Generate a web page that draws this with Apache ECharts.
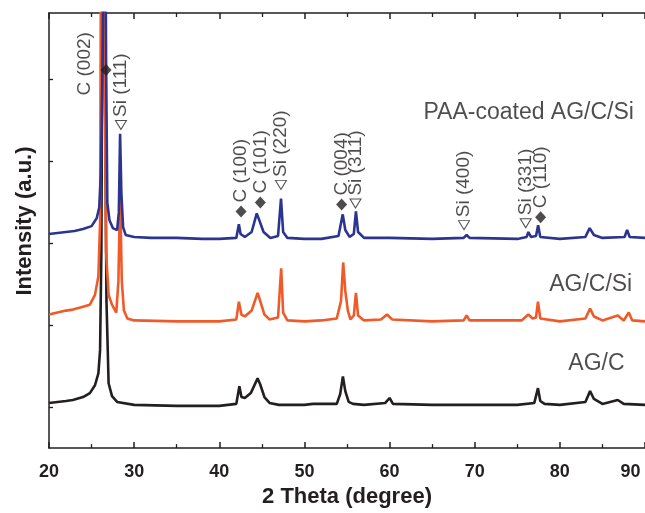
<!DOCTYPE html>
<html>
<head>
<meta charset="utf-8">
<script src="https://cdn.jsdelivr.net/npm/echarts@6/dist/echarts.min.js"></script>
<style>html,body{margin:0;padding:0;background:#fff}#c{width:645px;height:513px}</style>
</head>
<body>
<div id="c"></div>
<script>
// 2θ (degree) vs intensity (a.u., traces offset as drawn)
const agC = [[20,46],[21,47],[22,48],[22.8,49],[24,52],[24.8,56],[25.4,64],[25.8,76],[26.0,100],[26.15,200],[26.3,500],[26.4,700],[26.55,400],[26.75,150],[27.0,66],[27.4,53],[28,47],[30,44],[35,43],[40,43],[42.0,45],[42.36,63],[42.6,52],[43.0,51],[43.7,56],[44.5,71],[44.8,65],[45.3,52],[45.9,46],[47,44],[50,44],[51,45],[53.8,45],[54.2,55],[54.52,73],[54.8,58],[55.2,47],[55.7,45],[57,44],[59.5,46],[60.0,51],[60.4,45],[65,44],[70,44],[75,44],[77.0,46],[77.43,61],[77.7,48],[78.2,45],[80,44],[83.0,47],[83.55,58],[84.0,50],[85,45],[86.8,49],[87.5,45],[90,44]];
const agCSi = [[20,136],[21,138],[22,140],[22.8,141],[24,144],[24.8,146],[25.4,156],[25.8,175],[26.0,230],[26.1,500],[26.25,700],[26.45,500],[26.7,200],[27.0,156],[27.4,146],[27.9,138],[28.15,170],[28.35,260],[28.55,170],[28.8,140],[29.2,132],[30,130],[35,129],[40,129],[42.0,131],[42.3,149],[42.6,136],[43.0,134],[43.8,140],[44.5,158],[44.8,150],[45.3,136],[45.9,131],[46.9,133],[47.27,183],[47.5,138],[48,130],[50,129],[52,130],[53.8,132],[54.3,150],[54.55,189],[54.8,160],[55.1,140],[55.4,131],[55.8,135],[56.05,158],[56.3,135],[57,130],[59.0,131],[59.7,136],[60.3,131],[65,129],[68.7,130],[69.05,135],[69.4,130],[75.5,130],[76.3,136],[76.8,132],[77.2,133],[77.43,149],[77.7,132],[80,129],[83.0,132],[83.55,142],[84.0,134],[85,130],[86.8,135],[87.5,130],[88.1,138],[88.5,130],[90,129]];
const paaAgCSi = [[20,218],[21,219],[22,220],[23,221],[24,223],[25,226],[25.6,234],[25.9,245],[26.1,280],[26.3,400],[26.55,700],[26.7,400],[26.85,250],[27.1,232],[27.5,224],[28.0,222],[28.2,240],[28.35,320],[28.5,260],[28.7,225],[29.0,217],[30,215],[32,214],[35,214],[38,213],[40,213],[42.0,214],[42.3,228],[42.5,218],[43.0,215],[43.8,220],[44.4,239],[44.7,232],[45.2,220],[46.0,214],[46.9,216],[47.25,254],[47.5,220],[48,214],[50,213],[52,213],[54.0,216],[54.5,238],[54.8,222],[55.3,215],[55.8,218],[56.05,241],[56.3,220],[57,214],[60,214],[65,213],[68.7,214],[69.05,217],[69.4,214],[75,213],[76.1,215],[76.3,220],[76.6,215],[77.2,216],[77.45,227],[77.7,215],[80,213],[83.0,215],[83.5,224],[84.0,217],[85,214],[87.6,215],[87.9,222],[88.2,215],[90,214]];

// peak identification marks: [2θ, height, label]
const graphiteMarks = [[26.70,385,''],[42.56,241,'C (100)'],[44.82,250,'C (101)'],[54.37,248,'C (004)'],[77.74,235,'C (110)']];
const siliconMarks = [[28.45,329,'Si (111)'],[47.24,268,'Si (220)'],[56.0,249,'Si (311)'],[68.74,227,'Si (400)'],[75.99,229,'Si (331)']];
const freeLabels = [[24.25,359,'C (002)']];
const sampleNames = [[88.7,342,'PAA-coated AG/C/Si'],[88.5,166,'AG/C/Si'],[87.6,86,'AG/C']];

const xTicks = [20,30,40,50,60,70,80,90];
const yTicks = [42,125.5,209,292.5,376];

const FONT = '"Liberation Sans", Arial, Helvetica, sans-serif';
const INK = '#231f20';

const chart = echarts.init(document.getElementById('c'), null, {renderer:'canvas'});

const annLabel = {
  show: true, position: 'top', distance: 3, rotate: 90, align: 'left', verticalAlign: 'middle',
  fontFamily: FONT, fontSize: 19, color: INK,
  formatter: p => p.data[2]
};

const xBase = {
  type: 'value', min: xTicks[0], max: xTicks[xTicks.length-1], interval: 10,
  axisLine: {show: true, onZero: false, lineStyle: {color: INK, width: 1.5}},
  axisTick: {show: true, inside: true, length: 6, lineStyle: {color: INK, width: 1.5}},
  minorTick: {show: true, splitNumber: 2, length: 4, lineStyle: {color: INK, width: 1.3}},
  splitLine: {show: false}
};

chart.setOption({
  animation: false,
  backgroundColor: '#fff',
  grid: {left: 49, top: 13, width: 599, height: 443, containLabel: false},
  xAxis: [
    Object.assign({}, xBase, {
      position: 'bottom',
      name: '2 Theta (degree)', nameLocation: 'middle', nameGap: 35,
      nameTextStyle: {fontFamily: FONT, fontSize: 22, fontWeight: 'bold', color: INK},
      axisLabel: {
        show: true, margin: 15, fontFamily: FONT, fontSize: 18, fontWeight: 'bold', color: INK,
        formatter: v => v === xTicks[xTicks.length-1] ? '{e|' + v + '}' : String(v),
        rich: {e: {fontFamily: FONT, fontSize: 18, fontWeight: 'bold', color: INK, padding: [0, 29, 0, 0]}}
      }
    }),
    Object.assign({}, xBase, {position: 'top', axisLabel: {show: false}})
  ],
  yAxis: {
    type: 'value', min: 0, max: 443,
    name: 'Intensity (a.u.)', nameLocation: 'middle', nameGap: 13,
    nameTextStyle: {fontFamily: FONT, fontSize: 22, fontWeight: 'bold', color: INK, padding: [0, 0, 0, 19]},
    axisLine: {show: true, lineStyle: {color: INK, width: 1.5}},
    axisTick: {show: true, inside: true, length: 4, customValues: yTicks, lineStyle: {color: INK, width: 1.3}},
    axisLabel: {show: false},
    splitLine: {show: false}
  },
  series: [
    {name: 'AG/C', type: 'line', data: agC, showSymbol: false, symbol: 'none', clip: true,
     lineStyle: {color: INK, width: 2.6}, z: 2},
    {name: 'AG/C/Si', type: 'line', data: agCSi, showSymbol: false, symbol: 'none', clip: true,
     lineStyle: {color: '#f05a28', width: 2.6}, z: 3},
    {name: 'PAA-coated AG/C/Si', type: 'line', data: paaAgCSi, showSymbol: false, symbol: 'none', clip: true,
     lineStyle: {color: '#2b3591', width: 2.6}, z: 4},
    {name: 'C marks', type: 'scatter', data: graphiteMarks, symbol: 'diamond', symbolSize: [11, 12],
     itemStyle: {color: INK}, label: annLabel, z: 6, silent: true},
    {name: 'Si marks', type: 'scatter', data: siliconMarks, symbol: 'triangle', symbolRotate: 180, symbolSize: [11, 9],
     itemStyle: {color: '#fff', borderColor: INK, borderWidth: 1}, label: annLabel, z: 6, silent: true},
    {name: 'free labels', type: 'scatter', data: freeLabels, symbolSize: 0,
     label: Object.assign({}, annLabel, {position: 'inside', distance: 0}), z: 6, silent: true},
    {name: 'sample names', type: 'scatter', data: sampleNames, symbolSize: 0,
     label: {show: true, position: 'inside', align: 'right', verticalAlign: 'middle',
       fontFamily: FONT, fontSize: 23, color: INK, formatter: p => p.data[2]}, z: 6, silent: true}
  ]
});
</script>
</body>
</html>
